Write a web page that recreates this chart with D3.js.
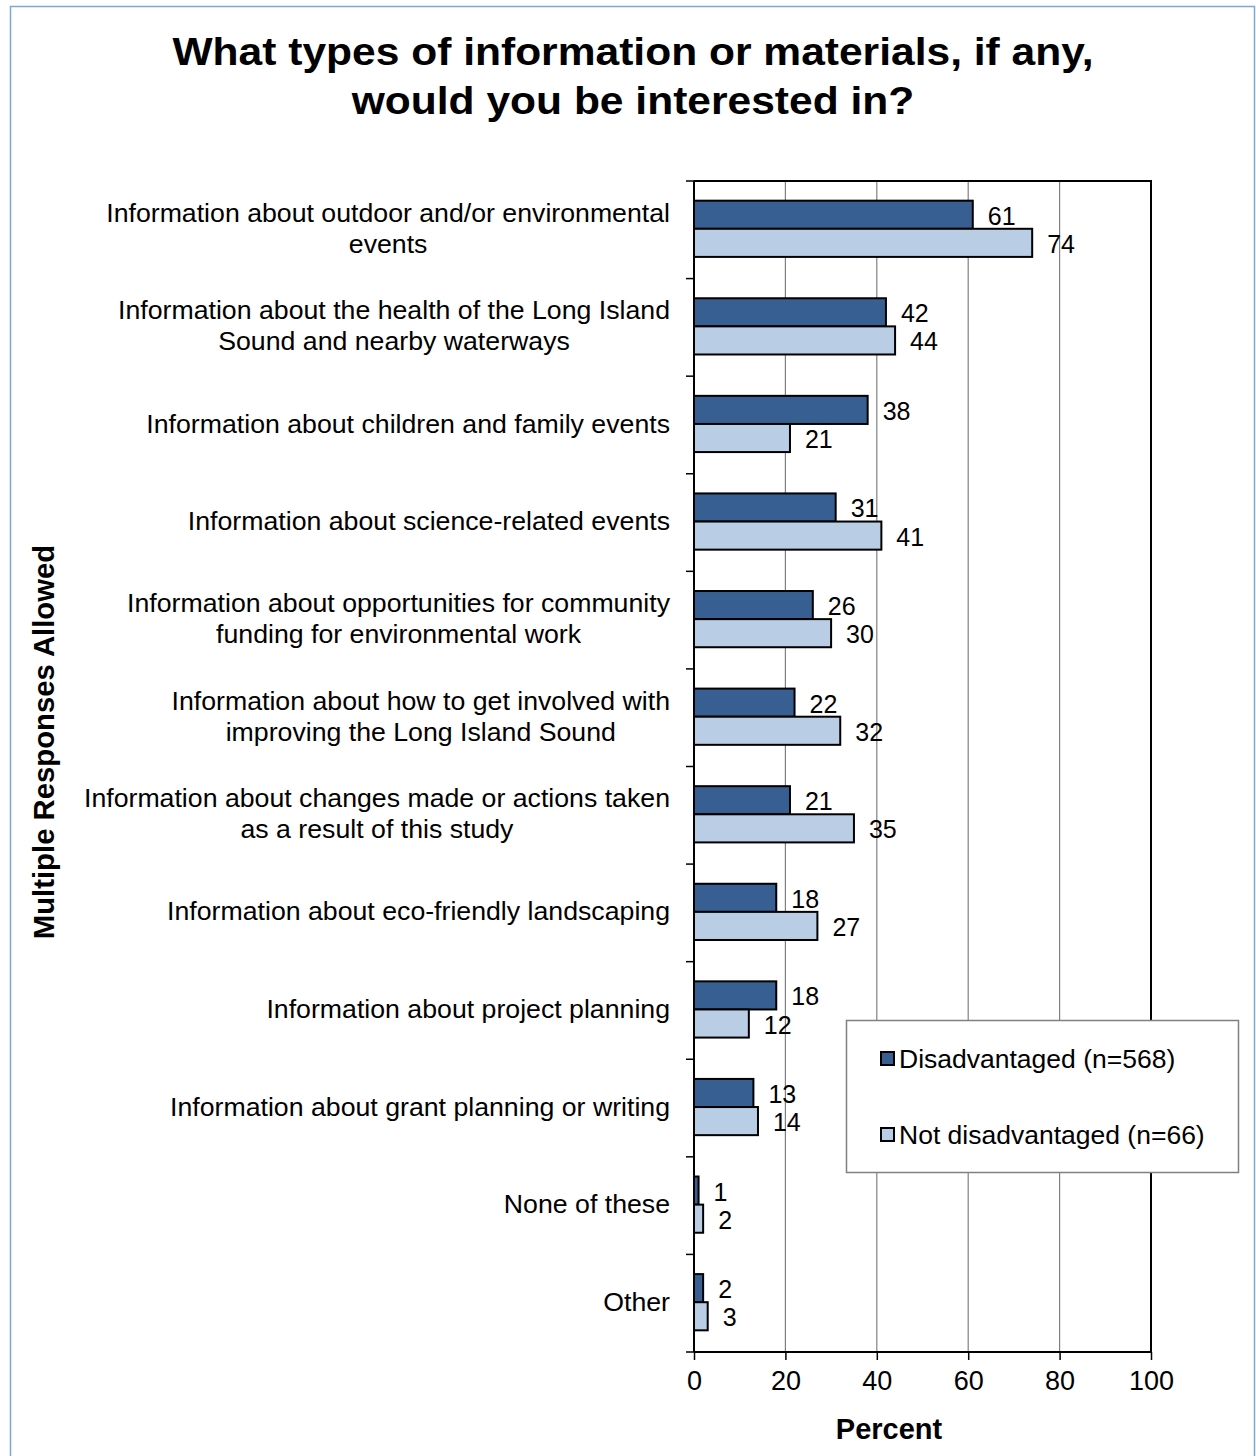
<!DOCTYPE html>
<html><head><meta charset="utf-8">
<script src="https://cdn.jsdelivr.net/npm/d3@7"></script>
<style>body{margin:0;background:#fff}svg{display:block;font-family:"Liberation Sans",Arial,sans-serif}</style>
</head><body>
<svg id="c" width="1256" height="1456"></svg>
<script>
const categories = [
  ["Information about outdoor and/or environmental","events"],
  ["Information about the health of the Long Island","Sound and nearby waterways"],
  ["Information about children and family events"],
  ["Information about science-related events"],
  ["Information about opportunities for community","funding for environmental work"],
  ["Information about how to get involved with","improving the Long Island Sound"],
  ["Information about changes made or actions taken","as a result of this study"],
  ["Information about eco-friendly landscaping"],
  ["Information about project planning"],
  ["Information about grant planning or writing"],
  ["None of these"],
  ["Other"]
];
const disadvantaged = [61,42,38,31,26,22,21,18,18,13,1,2];
const notDisadvantaged = [74,44,21,41,30,32,35,27,12,14,2,3];
const seriesNames = ["Disadvantaged (n=568)","Not disadvantaged (n=66)"];
const xTicks = [0,20,40,60,80,100];
const titleLines = ["What types of information or materials, if any,","would you be interested in?"];

const colors = ["#375f92","#b9cde5"];
const svg = d3.select("#c");
svg.append("rect").attr("x",10.5).attr("y",6.5).attr("width",1244).attr("height",1470)
  .attr("fill","#fff").attr("stroke","#7ea6d8").attr("stroke-width",1.5);

const L=694, R=1151, T=181, B=1352;
const x = d3.scaleLinear().domain([0,100]).range([L,R]);
const y = d3.scaleBand().domain(d3.range(categories.length)).range([T,B]).paddingInner(0).paddingOuter(0);
const sub = d3.scaleBand().domain([0,1]).range([0,y.bandwidth()-2]).paddingInner(0).paddingOuter(0.7);

// gridlines
svg.append("g").selectAll("line").data(xTicks.slice(1,-1)).join("line")
  .attr("x1",d=>x(d)).attr("x2",d=>x(d)).attr("y1",T).attr("y2",B)
  .attr("stroke","#808080").attr("stroke-width",1.2);

// bars
const series=[disadvantaged, notDisadvantaged];
series.forEach((vals,si)=>{
  svg.append("g").selectAll("rect").data(vals).join("rect")
    .attr("x",x(0)).attr("y",(d,i)=>y(i)+sub(si))
    .attr("width",d=>x(d)-x(0)).attr("height",sub.bandwidth())
    .attr("fill",colors[si]).attr("stroke","#000").attr("stroke-width",2);
});

// plot border top/right/bottom
svg.append("path").attr("d",`M${L},${T}H${R}V${B}H${L}`).attr("fill","none").attr("stroke","#000").attr("stroke-width",2);

// x axis
const xa = svg.append("g").attr("transform",`translate(0,${B})`)
  .call(d3.axisBottom(x).tickValues(xTicks).tickSize(8).tickPadding(11));
xa.select(".domain").remove();
xa.selectAll(".tick line").attr("stroke","#000").attr("stroke-width",1.5);
xa.selectAll("text").attr("font-size",27).attr("fill","#000").attr("font-family","Liberation Sans, Arial, sans-serif");

// y axis line and ticks
svg.append("line").attr("x1",L).attr("x2",L).attr("y1",T).attr("y2",B).attr("stroke","#000").attr("stroke-width",2);
const bounds = d3.range(categories.length+1).map(i=> i<categories.length? y(i): B);
svg.append("g").selectAll("line").data(bounds).join("line")
  .attr("x1",L-8).attr("x2",L).attr("y1",d=>d).attr("y2",d=>d).attr("stroke","#000").attr("stroke-width",1.5);

// data labels
series.forEach((vals,si)=>{
  svg.append("g").selectAll("text").data(vals).join("text")
    .attr("x",d=>x(d)+15).attr("y",(d,i)=>y(i)+sub(si)+sub.bandwidth()/2+1)
    .attr("dy","0.36em").attr("font-size",25).attr("fill","#000").text(d=>d);
});

// category labels
const lh=31;
categories.forEach((lines,i)=>{
  const cy = y(i)+y.bandwidth()/2 - 2;
  const grp = svg.append("g");
  const texts = lines.map((ln,k)=> grp.append("text").attr("font-size",26.7).attr("fill","#000")
      .attr("text-anchor","middle").attr("dy","0.36em")
      .attr("y", cy + (k-(lines.length-1)/2)*lh).text(ln));
  const w = d3.max(texts, t=>t.node().getComputedTextLength());
  texts.forEach(t=>t.attr("x", 670 - w/2));
});

// title (horizontally stretched like the reference)
titleLines.forEach((t,k)=>{
  svg.append("text").attr("transform",`translate(633,${65+k*49}) scale(1.12,1)`).attr("text-anchor","middle")
    .attr("font-size",38).attr("font-weight","bold").attr("fill","#000").text(t);
});

// axis titles
svg.append("text").attr("x",889).attr("y",1439).attr("text-anchor","middle")
  .attr("font-size",29).attr("font-weight","bold").text("Percent");
svg.append("text").attr("transform","translate(54,742) rotate(-90)").attr("text-anchor","middle")
  .attr("font-size",29.3).attr("font-weight","bold").text("Multiple Responses Allowed");

// legend
const lg = svg.append("g");
lg.append("rect").attr("x",846.5).attr("y",1020.5).attr("width",392).attr("height",152)
  .attr("fill","#fff").attr("stroke","#808080").attr("stroke-width",1.5);
seriesNames.forEach((n,k)=>{
  const yy = 1058 + k*76;
  lg.append("rect").attr("x",881).attr("y",yy-6).attr("width",13).attr("height",13)
    .attr("fill",colors[k]).attr("stroke","#000").attr("stroke-width",2);
  lg.append("text").attr("x",899).attr("y",yy).attr("dy","0.36em").attr("font-size",26.5).text(n);
});
</script>
</body></html>
